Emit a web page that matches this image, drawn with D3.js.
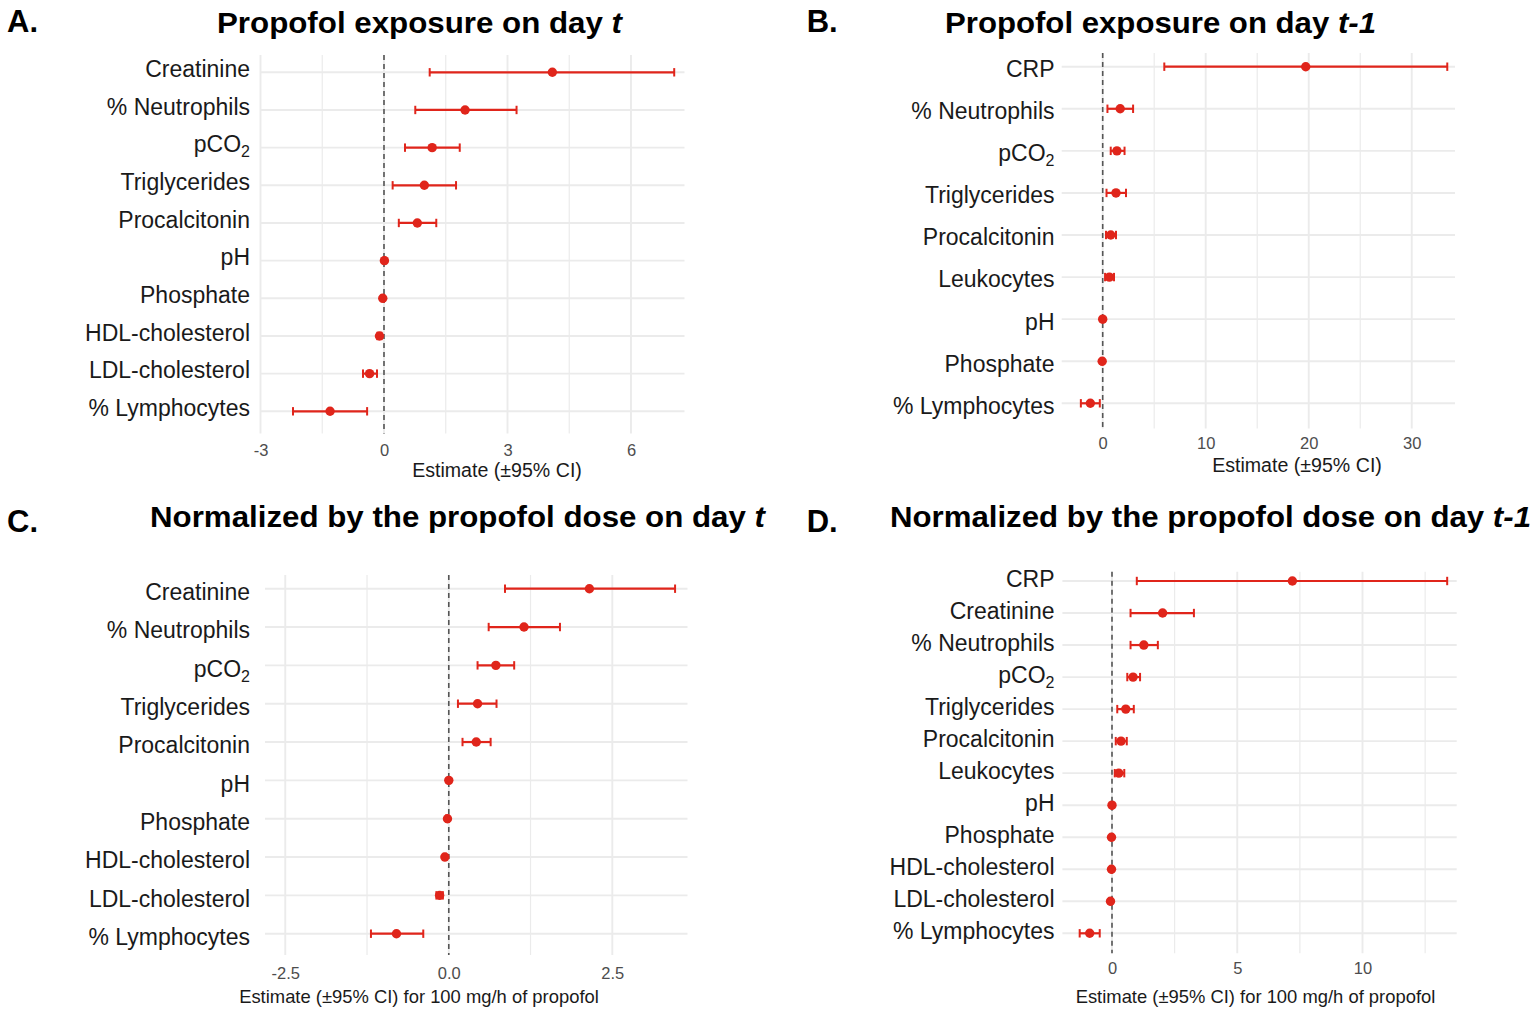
<!DOCTYPE html>
<html><head><meta charset="utf-8">
<script src="https://cdn.jsdelivr.net/npm/d3@7"></script>
<style>body{margin:0;background:#fff;overflow:hidden}</style>
</head><body><svg id="c" width="1535" height="1013"></svg>
<script>
// ---------- DATA ----------
const catsA = ["Creatinine","% Neutrophils","pCO2","Triglycerides","Procalcitonin","pH","Phosphate","HDL-cholesterol","LDL-cholesterol","% Lymphocytes"];
const estA  = [4.09, 1.97, 1.17, 0.98, 0.81, 0.01, -0.03, -0.11, -0.35, -1.31];
const lowA  = [1.11, 0.76, 0.51, 0.21, 0.36, -0.01, -0.06, -0.16, -0.51, -2.21];
const highA = [7.05, 3.22, 1.84, 1.75, 1.27, 0.03, 0.00, -0.06, -0.17, -0.41];
const ticksA = [-3, 0, 3, 6];
const tickLabelsA = ["-3", "0", "3", "6"];
const minorA = [-1.5, 1.5, 4.5];

const catsB = ["CRP","% Neutrophils","pCO2","Triglycerides","Procalcitonin","Leukocytes","pH","Phosphate","% Lymphocytes"];
const estB  = [19.71, 1.70, 1.38, 1.29, 0.78, 0.65, 0.00, -0.05, -1.20];
const lowB  = [5.98, 0.46, 0.78, 0.37, 0.32, 0.23, -0.05, -0.15, -2.12];
const highB = [33.45, 2.95, 2.12, 2.26, 1.29, 1.10, 0.05, 0.05, -0.28];
const ticksB = [0, 10, 20, 30];
const tickLabelsB = ["0", "10", "20", "30"];
const minorB = [5, 15, 25];

const catsC = ["Creatinine","% Neutrophils","pCO2","Triglycerides","Procalcitonin","pH","Phosphate","HDL-cholesterol","LDL-cholesterol","% Lymphocytes"];
const estC  = [2.15, 1.15, 0.72, 0.44, 0.42, 0.00, -0.02, -0.06, -0.14, -0.80];
const lowC  = [0.86, 0.61, 0.44, 0.14, 0.21, -0.01, -0.04, -0.08, -0.19, -1.19];
const highC = [3.46, 1.70, 1.00, 0.73, 0.64, 0.01, 0.00, -0.04, -0.09, -0.39];
const ticksC = [-2.5, 0, 2.5];
const tickLabelsC = ["-2.5", "0.0", "2.5"];
const minorC = [-1.25, 1.25];

const catsD = ["CRP","Creatinine","% Neutrophils","pCO2","Triglycerides","Procalcitonin","Leukocytes","pH","Phosphate","HDL-cholesterol","LDL-cholesterol","% Lymphocytes"];
const estD  = [7.20, 2.02, 1.27, 0.84, 0.55, 0.36, 0.27, 0.00, -0.02, -0.02, -0.06, -0.89];
const lowD  = [0.99, 0.74, 0.74, 0.61, 0.21, 0.15, 0.11, -0.03, -0.05, -0.05, -0.09, -1.29];
const highD = [13.38, 3.27, 1.83, 1.12, 0.87, 0.59, 0.49, 0.03, 0.01, 0.01, -0.03, -0.49];
const ticksD = [0, 5, 10];
const tickLabelsD = ["0", "5", "10"];
const minorD = [2.5, 7.5, 12.5];

const titles = ["Propofol exposure on day ", "Propofol exposure on day ", "Normalized by the propofol dose on day ", "Normalized by the propofol dose on day "];
const titleItalic = ["t", "t-1", "t", "t-1"];
const letters = ["A.", "B.", "C.", "D."];
const xTitles = ["Estimate (\u00B195% CI)", "Estimate (\u00B195% CI)",
                 "Estimate (\u00B195% CI) for 100 mg/h of propofol", "Estimate (\u00B195% CI) for 100 mg/h of propofol"];

// ---------- LAYOUT ----------
const FONT = "'Liberation Sans', Arial, Helvetica, sans-serif";
const RED = "#E0251B";
const GRID = "#EBEBEB";

const panels = [
  {cats: catsA, est: estA, low: lowA, high: highA, ticks: ticksA, tl: tickLabelsA, minor: minorA,
   domain: [-3, 7.3], left: 260.5, right: 684.5, top: 55, bottom: 433.5, first: 72.3, last: 411.3,
   labelX: 250, labelDy: 4.6, tickY: 456, xTitleX: 497, xTitleY: 476.5, xTitleFs: 19.6,
   titleX: 217, titleY: 33.3, titleW: 405, letterX: 7, letterY: 32},
  {cats: catsB, est: estB, low: lowB, high: highB, ticks: ticksB, tl: tickLabelsB, minor: minorB,
   domain: [-3.98, 34.2], left: 1061.7, right: 1455, top: 53, bottom: 428.5, first: 66.7, last: 403.3,
   labelX: 1054.5, labelDy: 10.4, tickY: 449.3, xTitleX: 1297, xTitleY: 471.5, xTitleFs: 19.6,
   titleX: 945, titleY: 33.3, titleW: 431, letterX: 806.7, letterY: 32},
  {cats: catsC, est: estC, low: lowC, high: highC, ticks: ticksC, tl: tickLabelsC, minor: minorC,
   domain: [-2.81, 3.65], left: 265, right: 687.5, top: 575, bottom: 955, first: 588.7, last: 933.7,
   labelX: 250, labelDy: 11.2, tickY: 978.7, xTitleX: 419, xTitleY: 1003, xTitleFs: 18.4,
   titleX: 150, titleY: 526.8, titleW: 615, letterX: 7, letterY: 532},
  {cats: catsD, est: estD, low: lowD, high: highD, ticks: ticksD, tl: tickLabelsD, minor: minorD,
   domain: [-1.98, 13.76], left: 1062.4, right: 1456.7, top: 571.7, bottom: 953.3, first: 581, last: 933.3,
   labelX: 1054.5, labelDy: 5.8, tickY: 974.3, xTitleX: 1255.5, xTitleY: 1003, xTitleFs: 18.4,
   titleX: 890, titleY: 526.8, titleW: 641, letterX: 806.7, letterY: 532}
];

const svg = d3.select("#c");
svg.append("rect").attr("width", 1535).attr("height", 1013).attr("fill", "#fff");

panels.forEach((p, pi) => {
  const g = svg.append("g");
  const x = d3.scaleLinear().domain(p.domain).range([p.left, p.right]);
  const y = d3.scalePoint().domain(p.cats).range([p.first, p.last]);

  // minor vertical grid
  g.selectAll(".mn").data(p.minor).join("line")
    .attr("x1", d => x(d)).attr("x2", d => x(d)).attr("y1", p.top).attr("y2", p.bottom)
    .attr("stroke", GRID).attr("stroke-width", 1.2);
  // major vertical grid
  g.selectAll(".mj").data(p.ticks).join("line")
    .attr("x1", d => x(d)).attr("x2", d => x(d)).attr("y1", p.top).attr("y2", p.bottom)
    .attr("stroke", GRID).attr("stroke-width", 1.9);
  // horizontal grid
  g.selectAll(".hg").data(p.cats).join("line")
    .attr("x1", p.left).attr("x2", p.right).attr("y1", d => y(d)).attr("y2", d => y(d))
    .attr("stroke", GRID).attr("stroke-width", 1.9);
  // zero dashed line
  g.append("line").attr("x1", x(0)).attr("x2", x(0)).attr("y1", p.top).attr("y2", p.bottom)
    .attr("stroke", "#555").attr("stroke-width", 1.6).attr("stroke-dasharray", "5,4");

  const rows = p.cats.map((c, i) => ({c, e: p.est[i], lo: p.low[i], hi: p.high[i]}));
  // error bars
  g.selectAll(".eb").data(rows).join("line")
    .attr("x1", d => x(d.lo)).attr("x2", d => x(d.hi)).attr("y1", d => y(d.c)).attr("y2", d => y(d.c))
    .attr("stroke", RED).attr("stroke-width", 2.2);
  g.selectAll(".cl").data(rows).join("line")
    .attr("x1", d => x(d.lo)).attr("x2", d => x(d.lo)).attr("y1", d => y(d.c) - 4.2).attr("y2", d => y(d.c) + 4.2)
    .attr("stroke", RED).attr("stroke-width", 2);
  g.selectAll(".ch").data(rows).join("line")
    .attr("x1", d => x(d.hi)).attr("x2", d => x(d.hi)).attr("y1", d => y(d.c) - 4.2).attr("y2", d => y(d.c) + 4.2)
    .attr("stroke", RED).attr("stroke-width", 2);
  g.selectAll(".pt").data(rows).join("circle")
    .attr("cx", d => x(d.e)).attr("cy", d => y(d.c)).attr("r", 4.7).attr("fill", RED);

  // y labels
  p.cats.forEach(c => {
    const t = g.append("text").attr("x", p.labelX).attr("y", y(c) + p.labelDy)
      .attr("text-anchor", "end").attr("font-family", FONT).attr("font-size", 23).attr("fill", "#1a1a1a");
    if (c === "pCO2") {
      t.append("tspan").text("pCO");
      t.append("tspan").attr("font-size", 16).attr("dy", 5).text("2");
    } else {
      t.text(c);
    }
  });

  // x axis tick labels
  const ax = d3.axisBottom(x).tickValues(p.ticks).tickFormat((d, i) => p.tl[i]).tickSize(0).tickPadding(0);
  const ag = g.append("g").attr("transform", `translate(0,${p.tickY})`).call(ax);
  ag.select(".domain").remove();
  ag.selectAll("text").attr("y", 0).attr("dy", null)
    .attr("font-family", FONT).attr("font-size", 16.5).attr("fill", "#4d4d4d");

  // x axis title
  g.append("text").attr("x", p.xTitleX).attr("y", p.xTitleY).attr("text-anchor", "middle")
    .attr("font-family", FONT).attr("font-size", p.xTitleFs).attr("fill", "#1a1a1a").text(xTitles[pi]);

  // panel title
  const tt = g.append("text").attr("x", p.titleX).attr("y", p.titleY)
    .attr("font-family", FONT).attr("font-size", 29).attr("font-weight", "bold").attr("fill", "#000")
    .attr("textLength", p.titleW).attr("lengthAdjust", "spacingAndGlyphs");
  tt.append("tspan").text(titles[pi]);
  tt.append("tspan").attr("font-style", "italic").text(titleItalic[pi]);

  // panel letter
  g.append("text").attr("x", p.letterX).attr("y", p.letterY)
    .attr("font-family", FONT).attr("font-size", 31).attr("font-weight", "bold").attr("fill", "#000")
    .text(letters[pi]);
});
</script></body></html>
